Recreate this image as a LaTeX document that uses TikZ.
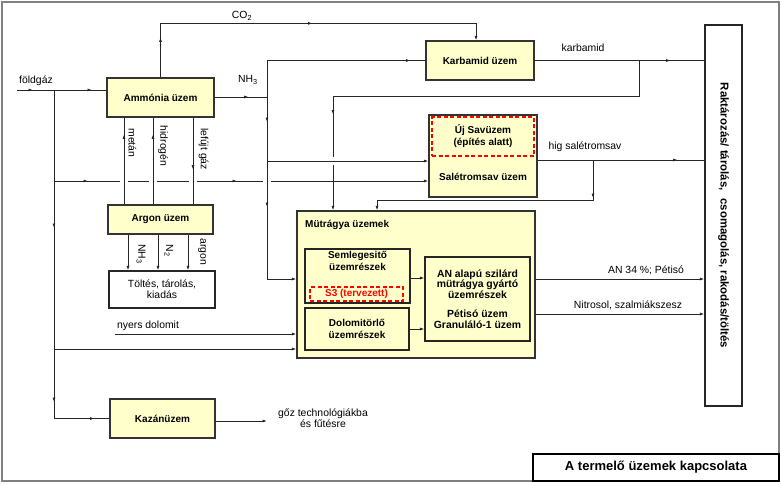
\documentclass[tikz,border=0pt]{standalone}
\usepackage{fontspec}
\setmainfont{Liberation Sans}
\usetikzlibrary{arrows.meta, calc, positioning, decorations.markings}

\definecolor{plantfill}{RGB}{255,255,204}
\definecolor{framegray}{RGB}{128,128,128}

\tikzset{
    plant/.style={draw=black!80, line width=1.3pt, fill=plantfill, font=\bfseries, align=center, inner sep=2pt},
    part/.style={draw=black!85, line width=1.1pt, fill=plantfill, font=\bfseries, align=center, inner sep=2pt},
    store/.style={draw=black!85, line width=1.3pt, fill=white, align=center, inner sep=2pt},
    planned/.style={draw=red, line width=1.2pt, dash pattern=on 4pt off 2.5pt},
    flow/.style={draw=black!85, line width=0.8pt},
    tip at/.style={postaction={decorate, decoration={markings, mark=at position #1 with {\arrow{>}}}}},
    lbl/.style={inner sep=1pt, align=center}
}

\begin{document}
\begin{tikzpicture}[x=1pt, y=-1pt, >={Latex[length=4.5pt, width=3pt]}, font=\fontsize{10.4}{11.2}\selectfont]
    \useasboundingbox (0,0) rectangle (781,483);
    \draw[framegray, line width=1.5pt] (2,2) rectangle (779,481);

    % plants
    \node[plant, minimum width=107pt, minimum height=39pt] (amm) at (160.5,97.5) {Ammónia üzem};
    \node[plant, minimum width=108pt, minimum height=39pt] (karb) at (480,60.5) {Karbamid üzem};
    \node[plant, minimum width=105pt, minimum height=29pt] (argon) at (160.5,219.5) {Argon üzem};
    \node[store, minimum width=106pt, minimum height=37pt] (toltes) at (162,289.5) {Töltés, tárolás,\\kiadás};
    \node[plant, minimum width=105pt, minimum height=39pt] (kazan) at (162.5,418.5) {Kazánüzem};

    \node[plant, minimum width=108pt, minimum height=82pt] (salet) at (483,156) {};
    \node[planned, minimum width=102pt, minimum height=39pt, font=\bfseries, align=center] (ujsav) at (483,136.5) {Új Savüzem\\(építés alatt)};
    \node[font=\bfseries] (saletlbl) at (483,177) {Salétromsav üzem};

    \node[plant, minimum width=238pt, minimum height=147pt] (mut) at (416,284.5) {};
    \node[font=\bfseries, anchor=west, inner sep=0pt] (mutlbl) at (305,225) {Mütrágya üzemek};
    \node[part, minimum width=105pt, minimum height=54pt] (semleg) at (357.5,276) {};
    \node[font=\bfseries, align=center, below=3pt of semleg.north, inner sep=0pt] (semleglbl) {Semlegesitő\\üzemrészek};
    \node[planned, minimum width=93pt, minimum height=14pt, inner sep=0pt, text=red, font=\bfseries] (s3) at (356.5,294) {S3 (tervezett)};
    \node[part, minimum width=104pt, minimum height=42pt] (dolo) at (357,329) {\raisebox{4pt}{\parbox{100pt}{\centering Dolomitörlő\\üzemrészek}}};
    \node[part, minimum width=105pt, minimum height=84pt, font=\bfseries\fontsize{10.4}{10.4}\selectfont] (an) at (477.5,299) {AN alapú szilárd\\mütrágya gyártó\\üzemrészek\\[9pt]Pétisó üzem\\Granuláló-1 üzem};

    \node[store, minimum width=37pt, minimum height=381pt] (rakt) at (723.5,215.5) {};
    \node[rotate=-90, font=\bfseries\fontsize{11.4}{13}\selectfont, inner sep=0pt] (raktlbl) at (rakt.center) {Raktározás/ tárolás,\hspace{0.7em}csomagolás, rakodás/töltés};
    \node[draw=black, line width=1.8pt, fill=white, minimum width=246pt, minimum height=27pt, font=\bfseries\fontsize{13}{15}\selectfont] (title) at (656,467.5) {A termelő üzemek kapcsolata};

    % junctions
    \coordinate (gasin) at (17,90);
    \coordinate (split) at (54,90);
    \coordinate (nh) at (267,97);
    \coordinate (kbsplit) at (639,60.5);
    \coordinate (hgsplit) at (593,160);
    \coordinate (dolin) at (115,334);
    \coordinate (steam) at (267,421);

    % földgáz
    \draw[flow, tip at=16pt, tip at=75pt] (gasin) -- (gasin -| amm.west);
    \draw[flow, tip at=138pt, tip at=312pt, tip at=369pt] (split) |- (kazan.west);
    \draw[flow, ->] (split |- 0,349) -- (mut.west |- 0,349);
    \draw[flow, tip at=34pt, tip at=183pt, ->] (split |- 0,181) -- (salet.west |- 0,181);
    \foreach \x in {124, 153, 193, 267} {
        \fill[white] (\x-4,178) rectangle (\x+4,184);
    };
    \node[lbl] (lgas) at (36,81) {földgáz};

    % CO2
    \draw[flow, tip at=40pt, tip at=206pt, ->] (amm.north) -- ++(0,-54) -| (karb.north -| 476,0);
    \node[lbl] (lco) at (242,16) {CO\textsubscript{2}};

    % NH3
    \draw[flow, tip at=34pt] (amm.east |- nh) -- (nh);
    \draw[flow, tip at=180pt] (nh) |- (karb.west);
    \draw[flow, tip at=25pt, tip at=110pt, ->] (nh) |- (mut.west |- 0,279);
    \node[lbl] (lnh) at (248,80) {NH\textsubscript{3}};

    % karbamid
    \draw[flow, tip at=360pt, ->] (kbsplit) |- (333,96) -- (mut.north -| 333,0);
    \fill[white] (330,157) rectangle (336,165);
    \draw[flow, ->] (nh |- 0,161) -- (salet.west |- 0,161);
    \draw[flow, tip at=136pt] (karb.east) -- (rakt.west |- karb.east);
    \node[lbl] (lkarb) at (583,48) {karbamid};

    % hig salétromsav
    \draw[flow, tip at=140pt] (salet.east |- hgsplit) -- (rakt.west |- hgsplit);
    \draw[flow, tip at=38pt, ->] (hgsplit) |- (377,200) -- (mut.north -| 377,0);
    \node[lbl] (lhig) at (585,147) {hig salétromsav};

    % argon
    \draw[flow, tip at=70pt] (argon.north -| 124,0) -- (amm.south -| 124,0);
    \draw[flow, tip at=70pt] (argon.north -| 153,0) -- (amm.south -| 153,0);
    \draw[flow, tip at=52pt] (amm.south -| 193,0) -- (argon.north -| 193,0);
    \node[lbl, rotate=-90] (lmetan) at (132.5,143) {metán};
    \node[lbl, rotate=-90] (lhidr) at (163,146) {hidrogén};
    \node[lbl, rotate=-90] (lgaz) at (203.5,149) {lefújt gáz};
    \foreach \x in {128, 158, 188} {
        \draw[flow, ->] (argon.south -| \x,0) -- (toltes.north -| \x,0);
    };
    \node[lbl, rotate=-90] (lnh3) at (141,254) {NH\textsubscript{3}};
    \node[lbl, rotate=-90] (ln2) at (169,251) {N\textsubscript{2}};
    \node[lbl, rotate=-90] (lar) at (202,252) {argon};

    % dolomit, kazán
    \draw[flow, ->] (dolin) -- (mut.west |- dolin);
    \node[lbl] (ldol) at (148,326) {nyers dolomit};
    \draw[flow, ->] (kazan.east |- steam) -- (steam);
    \node[lbl, font=\fontsize{10.4}{11}\selectfont] (lsteam) at (323,418) {gőz technológiákba\\és fűtésre};

    % mütrágya
    \draw[flow, ->] (semleg.east |- 0,278) -- (an.west |- 0,278);
    \draw[flow, ->] (dolo.east) -- (an.west |- dolo.east);
    \draw[flow, ->] (mut.east |- 0,279) -- (rakt.west |- 0,279);
    \draw[flow, ->] (mut.east |- 0,314) -- (rakt.west |- 0,314);
    \node[lbl] (lan) at (646,270) {AN 34 \%; Pétisó};
    \node[lbl] (lnitro) at (628,305) {Nitrosol, szalmiákszesz};
\end{tikzpicture}
\end{document}
